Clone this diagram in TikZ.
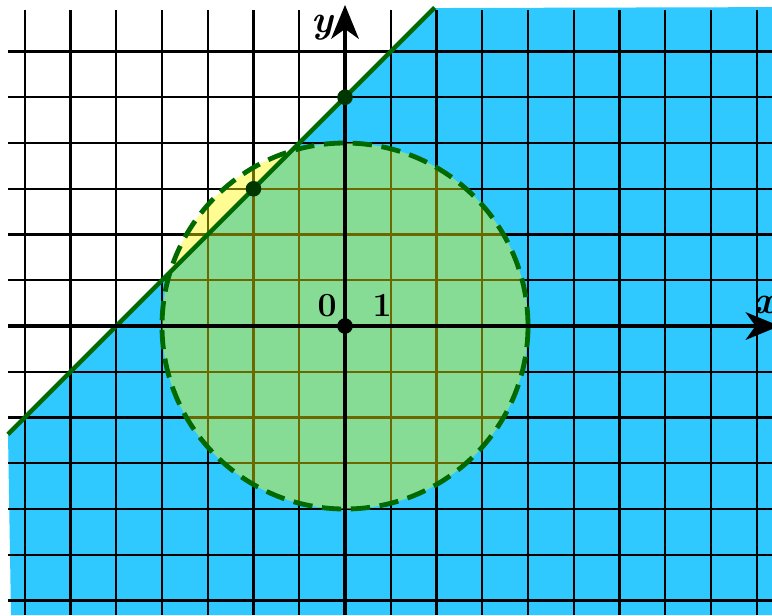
\documentclass[tikz,border=0pt]{standalone}
\usetikzlibrary{arrows.meta}
\definecolor{skyblue}{RGB}{47,200,255}
\definecolor{ylw}{RGB}{255,250,0}
\definecolor{dgreen}{RGB}{0,105,0}
\definecolor{dotgreen}{RGB}{0,55,0}
\tikzset{
  gridline/.style={black,line width=1.5pt},
  axis/.style={black,line width=3pt,-{Stealth[length=21pt,width=17pt,inset=6pt]}},
  dotmark/.style={circle,inner sep=0pt,minimum size=0.34cm,fill=#1},
  lbl/.style={font=\fontsize{21}{24}\selectfont\bfseries,inner sep=0pt}
}
\begin{document}
\begin{tikzpicture}[x=1cm,y=1cm]
\useasboundingbox (-7.541,-6.317) rectangle (9.333,7.126);
\fill[white] (-7.541,-6.317) rectangle (9.333,7.126);
% blue half-plane
\fill[skyblue] (-7.366,-2.366) -- (1.95,6.95) -- (9.333,6.97) -- (9.333,-6.317) -- (-7.30,-6.317) -- cycle;
% grid
\foreach \y in {-6,...,6} \draw[gridline] (-7.366,\y) -- (9.333,\y);
\foreach \x in {-7,...,9} \draw[gridline] (\x,-6.317) -- (\x,6.907);
% circle fill
\fill[ylw,opacity=0.42] (0,0) circle (4);
% line y = x + 5
\coordinate (L1) at (-7.366,-2.366);
\coordinate (L2) at (1.96,6.96);
\draw[dgreen,line width=2.8pt] (L1) -- (L2);
% dashed circle
\draw[dgreen,line width=3pt,dash pattern=on 12pt off 6pt] (0,0) circle (4);
% axes
\coordinate (xs) at (-7.366,0);
\coordinate (xe) at (9.50,0);
\coordinate (ys) at (0,-6.317);
\coordinate (ye) at (0,7.02);
\draw[axis] (xs) -- (xe);
\draw[axis] (ys) -- (ye);
% dots
\node[dotmark=black] (O) at (0,0) {};
\node[dotmark=dotgreen] (A) at (0,5) {};
\node[dotmark=dotgreen] (B) at (-2,3) {};
% labels
\node[lbl] (l0) at (-0.39,0.44) {0};
\node[lbl] (l1) at (0.81,0.44) {1};
\node[lbl,font=\fontsize{24}{26}\selectfont\bfseries\itshape] (ly) at (-0.50,6.52) {y};
\node[lbl,font=\fontsize{24}{26}\selectfont\bfseries\itshape] (lx) at (9.18,0.45) {x};
\end{tikzpicture}
\end{document}
